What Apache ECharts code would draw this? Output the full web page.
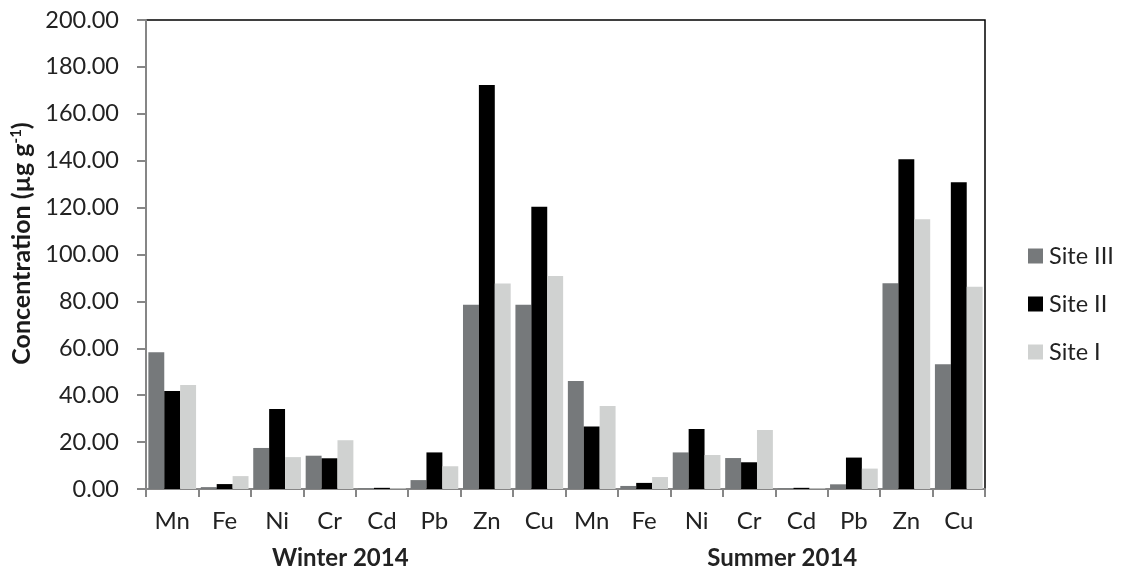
<!DOCTYPE html>
<html>
<head>
<meta charset="utf-8">
<script src="https://cdn.jsdelivr.net/npm/echarts@6/dist/echarts.min.js"></script>
<style>
html,body{margin:0;padding:0;background:#fff;}
#chart{width:1124px;height:573px;}
</style>
</head>
<body>
<div id="chart"></div>
<script>
var categories = ['Mn','Fe','Ni','Cr','Cd','Pb','Zn','Cu','Mn','Fe','Ni','Cr','Cd','Pb','Zn','Cu'];
var groups = ['Winter 2014','Summer 2014'];
var yTicks = [0,20,40,60,80,100,120,140,160,180,200];
var siteIII = [58.3,0.8,17.5,14.2,0.3,3.8,78.6,78.6, 46.1,1.3,15.6,13.2,0.3,2.0,87.7,53.2];
var siteII  = [41.8,2.1,34.1,13.1,0.5,15.6,172.3,120.4, 26.7,2.6,25.6,11.4,0.5,13.4,140.6,130.8];
var siteI   = [44.3,5.5,13.6,20.8,0.3,9.7,87.6,90.8, 35.4,5.1,14.5,25.2,0.3,8.7,115.0,86.3];

var FONT = 'Lato, "Open Sans", sans-serif';
var chart = echarts.init(document.getElementById('chart'));
var option = {
  animation: false,
  backgroundColor: '#fff',
  textStyle: {fontFamily: FONT},
  grid: {left: 146, right: 139, top: 20, bottom: 84, show: true, borderColor: '#000', borderWidth: 1.5, backgroundColor: 'transparent'},
  legend: {
    orient: 'vertical', left: 1023, top: 239, itemWidth: 15, itemHeight: 15, itemGap: 24,
    icon: 'rect',
    textStyle: {fontSize: 23.5, color: '#222', fontFamily: FONT, padding: [0,0,0,1]},
    data: ['Site III','Site II','Site I']
  },
  xAxis: [{
    type: 'category', data: categories, position: 'bottom',
    axisLine: {lineStyle: {color: '#868686', width: 2}},
    axisTick: {show: true, length: 8, alignWithLabel: false, lineStyle: {color: '#868686', width: 2}},
    axisLabel: {fontSize: 24, color: '#222', margin: 20, interval: 0, fontFamily: FONT}
  }, {
    type: 'category', data: groups, position: 'bottom', offset: 57,
    axisLine: {show: false}, axisTick: {show: false},
    axisLabel: {
      fontSize: 24, fontWeight: 'bold', color: '#222', interval: 0, margin: 0, fontFamily: FONT,
      formatter: function(v, i){ return i === 0 ? '{a|' + v + '}' : '{b|' + v + '}'; },
      rich: {
        a: {fontSize: 24, fontWeight: 'bold', color: '#222', fontFamily: FONT, padding: [0,31,0,0]},
        b: {fontSize: 24, fontWeight: 'bold', color: '#222', fontFamily: FONT, padding: [0,0,0,14]}
      }
    }
  }],
  yAxis: {
    type: 'value', min: 0, max: 200, interval: 20,
    name: '{t|Concentration (µg g}{s|-1}{t|)}',
    nameLocation: 'middle', nameGap: 104, nameRotate: 90,
    nameTextStyle: {
      padding: [0, 0, 0, 22],
      rich: {
        t: {fontSize: 25, fontWeight: 'bold', color: '#1a1a1a', fontFamily: FONT},
        s: {fontSize: 15, fontWeight: 'bold', color: '#1a1a1a', fontFamily: FONT, verticalAlign: 'top', padding: [0,0,12,0]}
      }
    },
    axisLine: {show: true, lineStyle: {color: '#868686', width: 2}},
    axisTick: {show: true, length: 9, lineStyle: {color: '#868686', width: 2}},
    axisLabel: {fontSize: 23.5, color: '#222', margin: 27, fontFamily: FONT,
      formatter: function(v){ return yTicks.indexOf(v) >= 0 ? v.toFixed(2) : ''; }},
    splitLine: {show: false}
  },
  series: [
    {name: 'Site III', type: 'bar', data: siteIII, barGap: '0%', barCategoryGap: '9%', itemStyle: {color: '#76797b'}},
    {name: 'Site II', type: 'bar', data: siteII, barGap: '0%', barCategoryGap: '9%', itemStyle: {color: '#000000'}},
    {name: 'Site I', type: 'bar', data: siteI, barGap: '0%', barCategoryGap: '9%', itemStyle: {color: '#d0d2d1'}}
  ]
};
chart.setOption(option);
</script>
</body>
</html>
